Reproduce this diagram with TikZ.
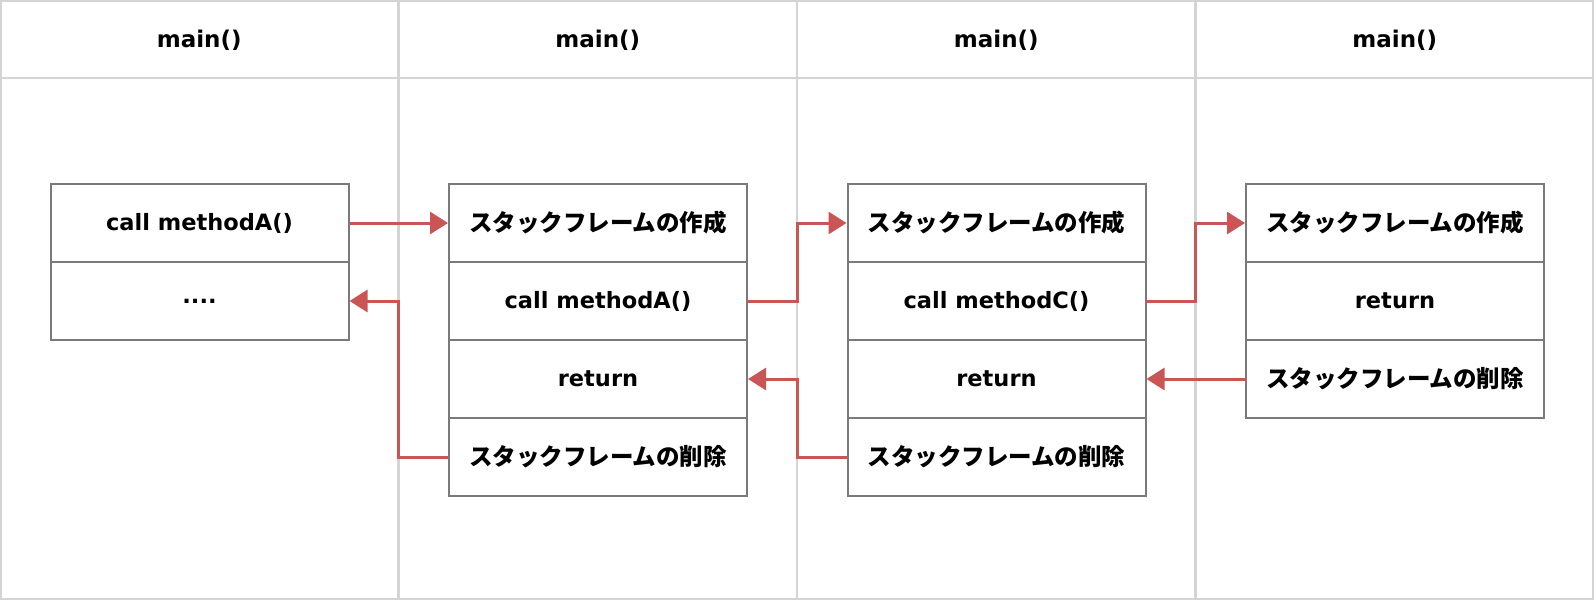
\documentclass[tikz,border=0pt]{standalone}
\usepackage{fontspec}
\setmainfont{DejaVu Sans}
\newfontfamily\jpfont{Noto Sans CJK JP}
\usetikzlibrary{arrows.meta}
\definecolor{gridc}{RGB}{212,212,212}
\definecolor{boxc}{RGB}{122,122,122}
\definecolor{arrc}{RGB}{201,85,85}
\newcommand\jtxt[1]{{\jpfont\fontsize{23.5}{28}\selectfont\bfseries #1}}
\begin{document}
\begin{tikzpicture}[x=1pt,y=-1pt,
  gridline/.style={draw=gridc, line width=2.2pt},
  cell/.style={draw=boxc, line width=2pt, fill=white, minimum width=298pt, minimum height=78pt, inner sep=0pt, font=\fontsize{22.5}{26}\selectfont\bfseries},
  head/.style={inner sep=0pt, font=\fontsize{23}{26}\selectfont\bfseries},
  arr/.style={draw=arrc, line width=3pt, -{Triangle[length=18pt,width=22pt]}}]
\useasboundingbox (0,0) rectangle (1594,600);
% grid
\coordinate (d1) at (398.5,0);
\coordinate (d2) at (797,0);
\coordinate (d3) at (1195.5,0);
\draw[gridline] (1,1) rectangle (1593,599);
\draw[gridline] (0,78) -- (1594,78);
\draw[gridline] (d1) -- (398.5,600);
\draw[gridline] (d2) -- (797,600);
\draw[gridline] (d3) -- (1195.5,600);
% headers
\node[head] (h1) at (199.25,40) {main()};
\node[head] (h2) at (597.75,40) {main()};
\node[head] (h3) at (996.25,40) {main()};
\node[head] (h4) at (1394.75,40) {main()};
% box 1
\node[cell] (b1r1) at (199.5,223) {call methodA()};
\node[cell] (b1r2) at (199.5,301) {....};
% box 2
\node[cell] (b2r1) at (598,223) {\jtxt{スタックフレームの作成}};
\node[cell] (b2r2) at (598,301) {call methodA()};
\node[cell] (b2r3) at (598,379) {return};
\node[cell] (b2r4) at (598,457) {\jtxt{スタックフレームの削除}};
% box 3
\node[cell] (b3r1) at (996.5,223) {\jtxt{スタックフレームの作成}};
\node[cell] (b3r2) at (996.5,301) {call methodC()};
\node[cell] (b3r3) at (996.5,379) {return};
\node[cell] (b3r4) at (996.5,457) {\jtxt{スタックフレームの削除}};
% box 4
\node[cell] (b4r1) at (1395,223) {\jtxt{スタックフレームの作成}};
\node[cell] (b4r2) at (1395,301) {return};
\node[cell] (b4r3) at (1395,379) {\jtxt{スタックフレームの削除}};
% arrows
\draw[arr] (b1r1.east) -- (b2r1.west);
\draw[arr] (b2r4.west) -- (b2r4.west -| d1) |- (b1r2.east);
\draw[arr] (b2r2.east) -- (b2r2.east -| d2) |- (b3r1.west);
\draw[arr] (b3r4.west) -- (b3r4.west -| d2) |- (b2r3.east);
\draw[arr] (b3r2.east) -- (b3r2.east -| d3) |- (b4r1.west);
\draw[arr] (b4r3.west) -- (b3r3.east);
\end{tikzpicture}
\end{document}
